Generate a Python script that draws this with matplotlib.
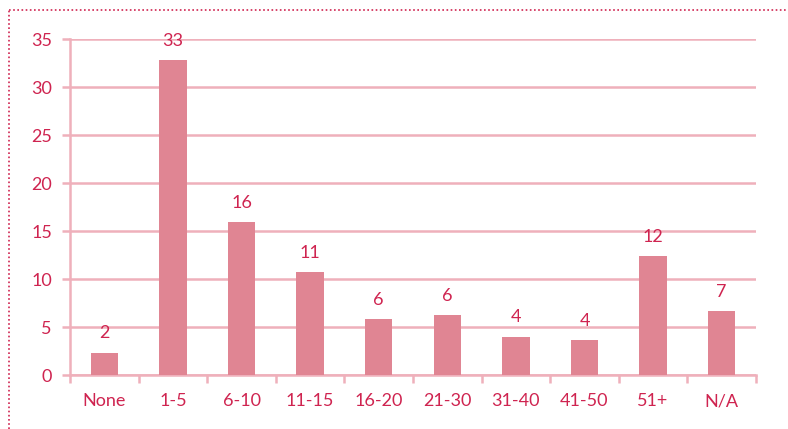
import matplotlib
matplotlib.use("Agg")
import matplotlib.pyplot as plt
from matplotlib.lines import Line2D

categories = ["None", "1-5", "6-10", "11-15", "16-20", "21-30", "31-40", "41-50", "51+", "N/A"]
values = [2.3, 32.8, 15.9, 10.7, 5.8, 6.25, 4.0, 3.6, 12.4, 6.67]
labels = ["2", "33", "16", "11", "6", "6", "4", "4", "12", "7"]
yticks = [0, 5, 10, 15, 20, 25, 30, 35]

plt.rcParams['font.family'] = ['Lato', 'DejaVu Sans']
text_c = "#CF2450"
bar_c = "#E08593"
grid_c = "#EFB0BB"

fig = plt.figure(figsize=(7.88, 4.29), dpi=100)
ax = fig.add_axes([70/788, 1-375/429, (756-70)/788, (375-39)/429])
x = list(range(len(categories)))
ax.bar(x, values, width=0.4, color=bar_c, zorder=3)
for xi, v, l in zip(x, values, labels):
    ax.annotate(l, (xi, v), xytext=(0, 14), textcoords="offset points",
                ha="center", va="center", color=text_c, fontsize=13)
ax.set_xlim(-0.5, len(categories)-0.5)
ax.set_ylim(0, 35)
ax.set_yticks(yticks)
ax.set_xticks([i - 0.5 for i in range(len(categories)+1)], minor=False)
ax.set_xticklabels([])
ax.set_xticks(x, minor=True)
ax.set_xticklabels(categories, minor=True)
ax.tick_params(axis='x', which='minor', length=0, pad=13, labelcolor=text_c, labelsize=13)
ax.tick_params(axis='x', which='major', length=6, color=grid_c, width=1.8)
ax.tick_params(axis='y', length=6, color=grid_c, width=1.8, labelcolor=text_c, labelsize=13, pad=7)
ax.grid(axis='y', color=grid_c, linewidth=1.8, zorder=0)
for s in ['top', 'right']:
    ax.spines[s].set_visible(False)
for s in ['left', 'bottom']:
    ax.spines[s].set_color(grid_c)
    ax.spines[s].set_linewidth(1.8)

fig.add_artist(Line2D([9/788, 9/788], [0, 1-10/429], transform=fig.transFigure,
                      color=text_c, linestyle=(0, (1, 1.5)), linewidth=1.2))
fig.add_artist(Line2D([9/788, 1], [1-10/429, 1-10/429], transform=fig.transFigure,
                      color=text_c, linestyle=(0, (1, 1.5)), linewidth=1.2))
fig.savefig("out.png", dpi=100)
